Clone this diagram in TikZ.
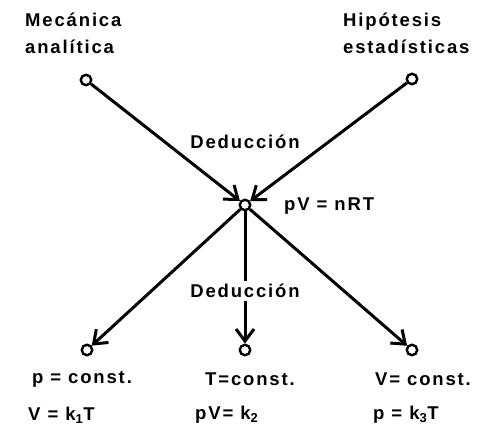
\documentclass[tikz,border=0pt]{standalone}
\usepackage{fontspec}
\usetikzlibrary{arrows.meta}
\newfontfamily\diagfont[LetterSpace=10]{Liberation Sans}
\begin{document}
\begin{tikzpicture}[x=1pt,y=-1pt,font=\diagfont\bfseries\fontsize{18.5}{27}\selectfont]
  \tikzset{
    dot/.style={circle,draw,line width=2.4pt,inner sep=0pt,minimum size=10.5pt},
    flow/.style={line width=3pt,-{Straight Barb[length=12pt,width=18pt]}},
    word/.style={inner sep=0pt,align=left}
  }
  \useasboundingbox (0,0) rectangle (481,433);
  % Sources, central law and the three special cases.
  \node[dot] (mech) at (86,80) {};
  \node[dot] (stat) at (412,79) {};
  \node[dot] (gas) at (245,205) {};
  \node[dot] (isob) at (87,350) {};
  \node[dot] (isot) at (245,350) {};
  \node[dot] (isoc) at (412,350) {};

  \node[word,anchor=north west] (mechtxt) at (25,13) {Mecánica\\analítica};
  \node[word,anchor=north west] (stattxt) at (343,13) {Hipótesis\\estadísticas};
  \node[word] (ded1) at (245,142) {Deducción};
  \node[word,anchor=west] (law) at (284,206) {pV = nRT};

  \draw[flow] (mech) -- (gas);
  \draw[flow] (stat) -- (gas);
  \draw[flow] (gas) -- (isob);
  \draw[flow] (gas) -- (isoc);
  \draw[flow] (gas) -- node[word,fill=white,inner sep=3pt,pos=.6] (ded2) {Deducción} (isot);

  \node[word] (c1) at (82,379) {p = const.};
  \node[word] (c2) at (250,379) {T=const.};
  \node[word] (c3) at (423,379) {V= const.};
  \node[word,anchor=west] (k1) at (28,415) {V = k\textsubscript{1}T};
  \node[word,anchor=west] (k2) at (195,415) {pV= k\textsubscript{2}};
  \node[word,anchor=west] (k3) at (373,415) {p = k\textsubscript{3}T};
\end{tikzpicture}
\end{document}
